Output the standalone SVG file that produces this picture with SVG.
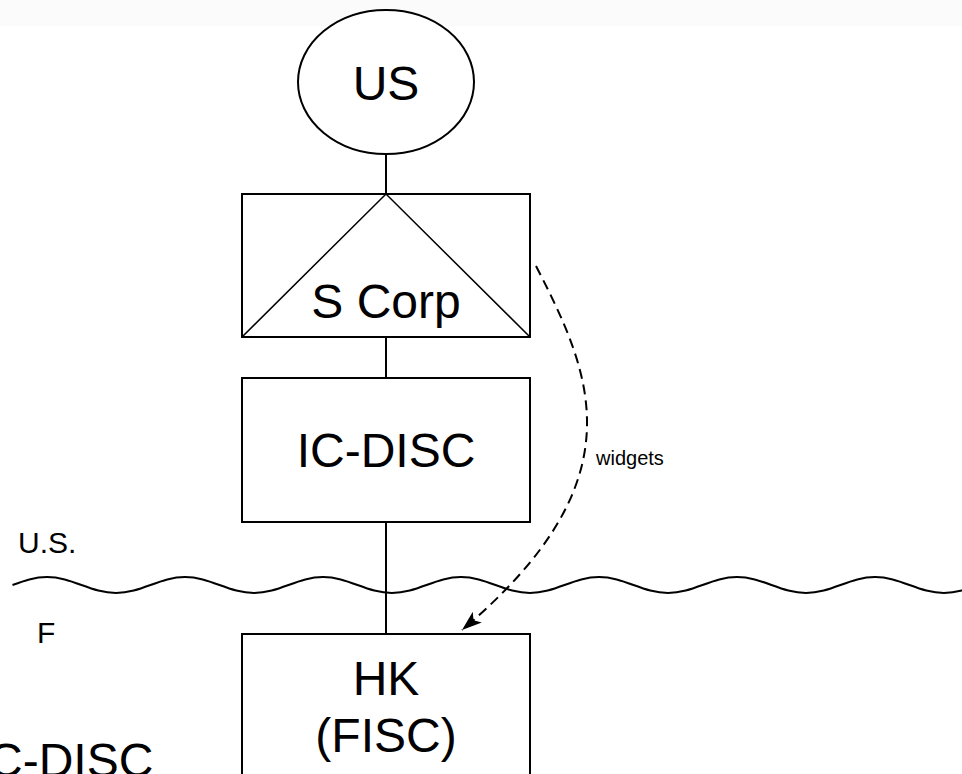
<svg xmlns="http://www.w3.org/2000/svg" width="962" height="774" viewBox="0 0 962 774">
  <style>
    .shape { fill: #ffffff; stroke: #000000; stroke-width: 2; }
    .thin { fill: none; stroke: #000000; stroke-width: 1.5; }
    .link { fill: none; stroke: #000000; stroke-width: 2; }
    .flow { fill: none; stroke: #000000; stroke-width: 2; stroke-dasharray: 10 6; }
    .big { font-family: "Liberation Sans", Arial, sans-serif; font-size: 48px; fill: #000000; text-anchor: middle; }
    .side { font-family: "Liberation Sans", Arial, sans-serif; font-size: 30px; fill: #000000; }
    .small { font-family: "Liberation Sans", Arial, sans-serif; font-size: 20px; fill: #000000; }
  </style>
  <defs>
    <marker id="arrow" viewBox="0 0 20 14" markerWidth="20" markerHeight="14" refX="20" refY="7" orient="auto" markerUnits="userSpaceOnUse">
      <path d="M0,0 L20,7 L0,14 L5,7 Z" fill="#000000"/>
    </marker>
  </defs>

  <rect x="0" y="0" width="962" height="774" fill="#ffffff"/>
  <rect x="0" y="0" width="962" height="26" fill="#fbfbfb"/>

  <!-- border between jurisdictions -->
  <g id="border">
    <path class="link" d="M12.5,585
      c11.25,-4.1 22.02,-8 34.5,-8 c12.48,0 23.25,3.9 34.5,8 c11.25,4.1 22.02,8 34.5,8 c12.48,0 23.25,-3.9 34.5,-8
      c11.25,-4.1 22.02,-8 34.5,-8 c12.48,0 23.25,3.9 34.5,8 c11.25,4.1 22.02,8 34.5,8 c12.48,0 23.25,-3.9 34.5,-8
      c11.25,-4.1 22.02,-8 34.5,-8 c12.48,0 23.25,3.9 34.5,8 c11.25,4.1 22.02,8 34.5,8 c12.48,0 23.25,-3.9 34.5,-8
      c11.25,-4.1 22.02,-8 34.5,-8 c12.48,0 23.25,3.9 34.5,8 c11.25,4.1 22.02,8 34.5,8 c12.48,0 23.25,-3.9 34.5,-8
      c11.25,-4.1 22.02,-8 34.5,-8 c12.48,0 23.25,3.9 34.5,8 c11.25,4.1 22.02,8 34.5,8 c12.48,0 23.25,-3.9 34.5,-8
      c11.25,-4.1 22.02,-8 34.5,-8 c12.48,0 23.25,3.9 34.5,8 c11.25,4.1 22.02,8 34.5,8 c12.48,0 23.25,-3.9 34.5,-8
      c11.25,-4.1 22.02,-8 34.5,-8 c12.48,0 23.25,3.9 34.5,8 c11.25,4.1 22.02,8 34.5,8 c12.48,0 23.25,-3.9 34.5,-8"/>
    <text class="side" x="18" y="553">U.S.</text>
    <text class="side" x="37" y="643">F</text>
  </g>

  <!-- ownership links and goods flow -->
  <g id="connectors">
    <line class="link" x1="386" y1="154" x2="386" y2="194"/>
    <line class="link" x1="386" y1="337" x2="386" y2="378"/>
    <line class="link" x1="386" y1="522" x2="386" y2="634"/>
    <path class="flow" d="M536,266 C592,375 640,480 462,630" marker-end="url(#arrow)"/>
    <text class="small" x="596" y="465">widgets</text>
  </g>

  <g id="us">
    <ellipse class="shape" cx="386" cy="82" rx="88" ry="72"/>
    <text class="big" x="386" y="100">US</text>
  </g>

  <g id="scorp">
    <rect class="shape" x="242" y="194" width="288" height="143"/>
    <path class="thin" d="M242,337 L386,194 L530,337"/>
    <text class="big" x="386" y="318">S Corp</text>
  </g>

  <g id="icdisc">
    <rect class="shape" x="242" y="378" width="288" height="144"/>
    <text class="big" x="386" y="467">IC-DISC</text>
  </g>

  <g id="hk">
    <rect class="shape" x="242" y="634" width="288" height="170"/>
    <text class="big" x="386" y="695">HK</text>
    <text class="big" x="386" y="752">(FISC)</text>
  </g>

  <text class="big" x="-12" y="777" style="text-anchor: start">C-DISC</text>
</svg>
